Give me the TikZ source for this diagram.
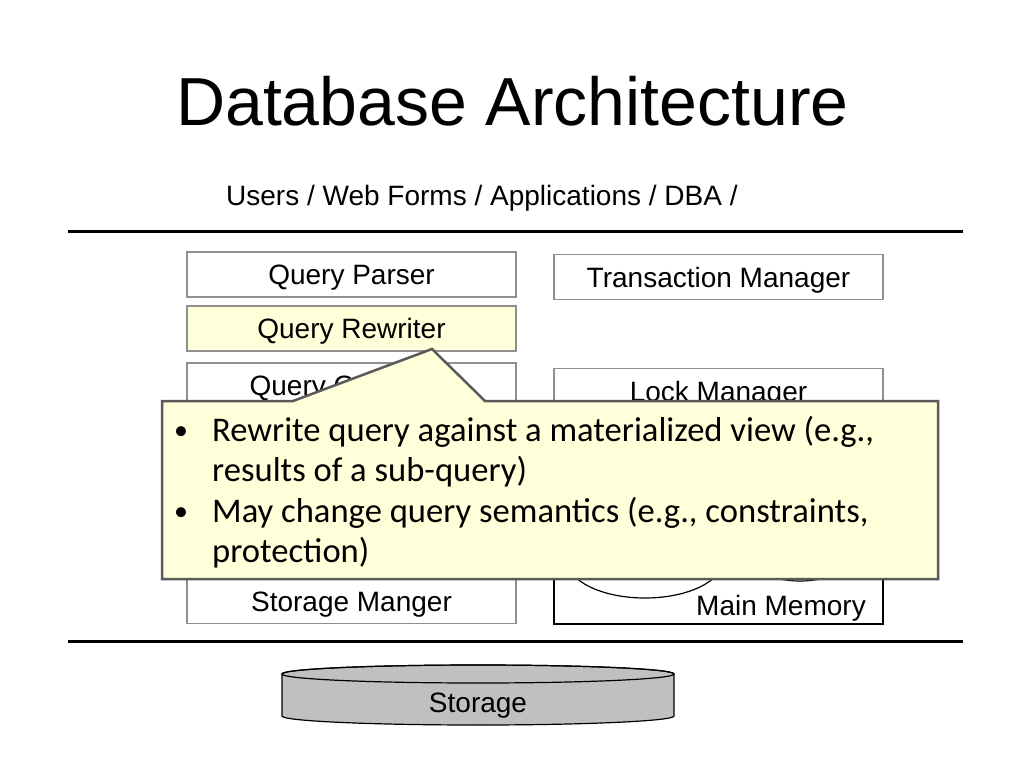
\documentclass[tikz,border=0pt]{standalone}
\usepackage{fontspec}
\setmainfont{Liberation Sans}
\newfontfamily\calloutfont{Carlito}
\definecolor{boxgray}{HTML}{8F8F8F}
\definecolor{paleyellow}{HTML}{FFFFDA}
\definecolor{calloutedge}{HTML}{5A5A5A}
\definecolor{storagegray}{HTML}{C0C0C0}
\begin{document}
\begin{tikzpicture}[x=1pt,y=-1pt,
  box/.style={draw=boxgray, line width=1.2pt, fill=white, minimum width=329pt,
    minimum height=45pt, inner sep=0pt, text height=20pt, text depth=0pt,
    font=\fontsize{28}{34}\selectfont},
  lbl/.style={font=\fontsize{28}{34}\selectfont, inner sep=0pt, anchor=base},
  sepline/.style={line width=3pt, black},
  ctext/.style={font=\calloutfont\fontsize{34.6}{40}\selectfont, inner sep=0pt, anchor=base west},
  bullet/.style={font=\calloutfont\fontsize{28}{40}\selectfont, inner sep=0pt, anchor=base west},
  calloutshape/.style={fill=paleyellow, draw=calloutedge, line width=2.5pt, line join=miter}]
\useasboundingbox[fill=white] (0,0) rectangle (1024,768);

% title and users
\node[font=\fontsize{68}{80}\selectfont, inner sep=0pt, anchor=base] (title) at (512.5,125) {Database Architecture};
\node[lbl, anchor=base west] (users) at (226,205) {Users / Web Forms / Applications / DBA /};

% separator lines
\coordinate (topL) at (68,231);
\coordinate (topR) at (963,231);
\coordinate (botL) at (68,641);
\coordinate (botR) at (963,641);
\draw[sepline] (topL) -- (topR);
\draw[sepline] (botL) -- (botR);

% left column
\node[box] (qp) at (351.5,274.5) {Query Parser};
\node[box, fill=paleyellow] (qr) at (351.5,328.5) {Query Rewriter};
\node[box] (qo) at (351.5,385.5) {Query Optimizer};
\node[box] (sm) at (351.5,601) {Storage Manger};

% right column
\node[box] (tm) at (718.5,277) {Transaction Manager};
\node[box] (lm) at (718.5,391) {Lock Manager};
\node[draw=black, line width=1.2pt, fill=white, minimum width=329pt, minimum height=204pt, inner sep=0pt] (mm) at (718.5,522) {};
\draw[line width=1.2pt] (645,560) ellipse [x radius=78pt, y radius=38pt];
\draw[line width=1.2pt] (800,550) ellipse [x radius=58pt, y radius=31pt];
\node[lbl, anchor=base east] (mmlabel) at (866,615) {Main Memory};

% callout
\draw[calloutshape] (162,401) -- (293,401) -- (432,349) -- (485,401) -- (938,401) -- (938,579) -- (162,579) -- cycle;
\node[bullet] (b1) at (174,439) {•};
\node[ctext] (l1) at (212,441) {Rewrite query against a materialized view (e.g.,};
\node[ctext] (l2) at (212,481) {results of a sub-query)};
\node[bullet] (b2) at (174,520) {•};
\node[ctext] (l3) at (212,522) {May change query semantics (e.g., constraints,};
\node[ctext] (l4) at (212,562) {protection)};

% storage cylinder
\draw[fill=storagegray, line width=1.2pt] (282,674) -- (282,716)
  arc[start angle=180, end angle=360, x radius=196pt, y radius=9pt] -- (674,674)
  arc[start angle=0, end angle=180, x radius=196pt, y radius=9pt] -- cycle;
\draw[line width=1.2pt] (478,674) ellipse [x radius=196pt, y radius=9pt];
\node[lbl] (storage) at (478,712) {Storage};
\end{tikzpicture}
\end{document}
